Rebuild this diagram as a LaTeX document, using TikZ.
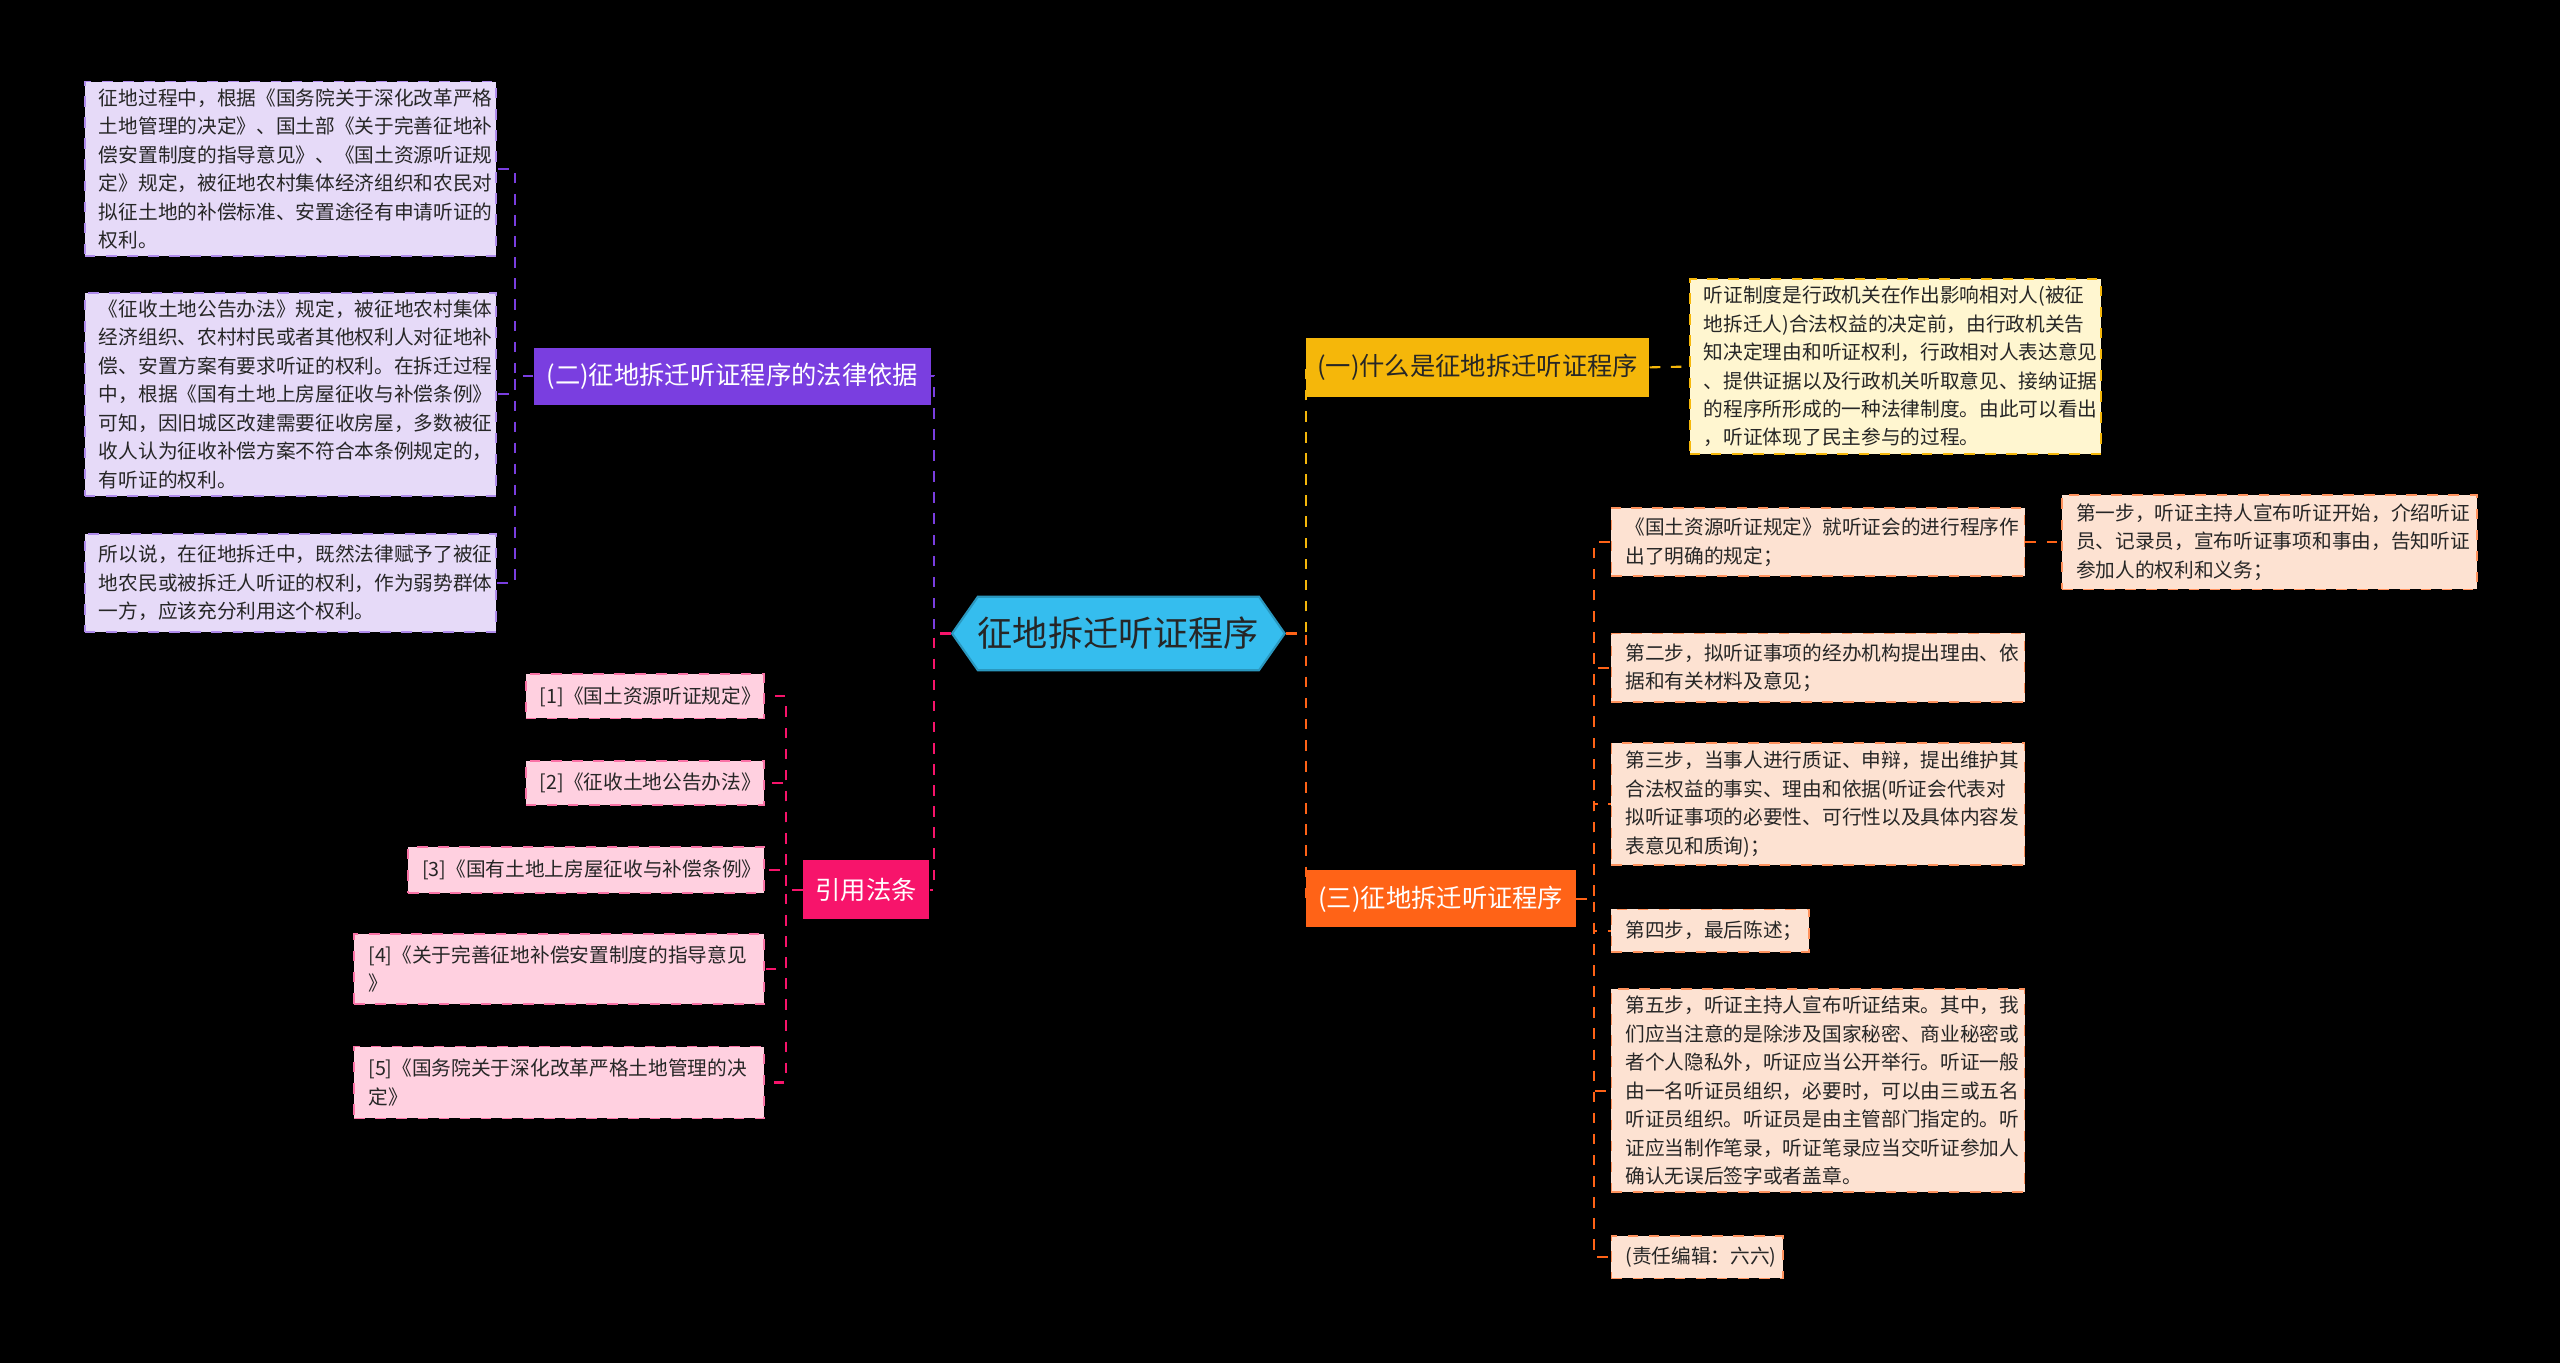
\documentclass[tikz,border=0pt]{standalone}
\usepackage{fontspec}
\setmainfont{Noto Sans CJK SC}
\usetikzlibrary{shapes.symbols}
\definecolor{cC}{HTML}{35BDEE}
\definecolor{cY}{HTML}{F5B70A}
\definecolor{cP}{HTML}{7A3EE0}
\definecolor{cR}{HTML}{F7146B}
\definecolor{cO}{HTML}{FF6317}
\definecolor{fY}{HTML}{FFF6D0}
\definecolor{fP}{HTML}{E6DAF8}
\definecolor{fR}{HTML}{FFD0E0}
\definecolor{fO}{HTML}{FDE2D2}
\tikzset{
 txt/.style={draw,dashed,line width=0.5pt,align=left,font=\fontsize{5.6}{8.1}\selectfont,text=black!85,inner xsep=4pt,inner ysep=2pt},
 tY/.style={txt,fill=fY,draw=cY},
 tP/.style={txt,fill=fP,draw=cP!60},
 tR/.style={txt,fill=fR,draw=cR!60},
 tO/.style={txt,fill=fO,draw=cO!70},
 br/.style={align=center,font=\fontsize{7.2}{9}\selectfont,inner sep=0pt},
 ln/.style={dashed,line width=0.6pt},
}
\newcommand\bx[7]{%
 \pgfmathsetmacro\bw{(#4-#2)*0.01633}%
 \pgfmathsetmacro\bh{(#5-#3)*0.01633}%
 \pgfmathsetmacro\tw{\bw*28.4528-8}%
 \pgfmathsetmacro\cx{(#2+#4)/2*0.01633}%
 \pgfmathsetmacro\cy{-(#3+#5)/2*0.01633}%
 \node[#6,minimum width=\bw cm,minimum height=\bh cm,text width=\tw pt] (#1) at (\cx,\cy) {#7};}
\newcommand\bn[7]{%
 \pgfmathsetmacro\bw{(#4-#2)*0.01633}%
 \pgfmathsetmacro\bh{(#5-#3)*0.01633}%
 \pgfmathsetmacro\cx{(#2+#4)/2*0.01633}%
 \pgfmathsetmacro\cy{-(#3+#5)/2*0.01633}%
 \node[br,#6,minimum width=\bw cm,minimum height=\bh cm] (#1) at (\cx,\cy) {#7};}
\begin{document}
\begin{tikzpicture}
\fill[black] (0,0) rectangle (25.6,-13.63);
\useasboundingbox (0,0) rectangle (25.6,-13.63);
% central
\node[signal,signal to=east and west,signal pointer angle=110,fill=cC,draw=cC!80!black,line width=0.6pt,
 minimum width=166*0.01633cm,minimum height=45*0.01633cm,inner sep=0pt,font=\fontsize{10}{12}\selectfont,text=black!85]
 (c) at (685*0.01633,-388*0.01633) {征地拆迁听证程序};
% branches
\bn{b1}{800}{207}{1010}{243}{fill=cY,text=black!85}{(一)什么是征地拆迁听证程序}
\bn{b2}{327}{213}{570}{248}{fill=cP,text=white}{(二)征地拆迁听证程序的法律依据}
\bn{b3}{492}{527}{569}{563}{fill=cR,text=white}{引用法条}
\bn{b4}{800}{533}{965}{568}{fill=cO,text=white}{(三)征地拆迁听证程序}
% texts
\bx{y1}{1035}{172}{1287}{277}{tY}{听证制度是行政机关在作出影响相对人(被征\\地拆迁人)合法权益的决定前，由行政机关告\\知决定理由和听证权利，行政相对人表达意见\\、提供证据以及行政机关听取意见、接纳证据\\的程序所形成的一种法律制度。由此可以看出\\，听证体现了民主参与的过程。}
\bx{p1}{52}{50}{304}{157}{tP}{征地过程中，根据《国务院关于深化改革严格\\土地管理的决定》、国土部《关于完善征地补\\偿安置制度的指导意见》、《国土资源听证规\\定》规定，被征地农村集体经济组织和农民对\\拟征土地的补偿标准、安置途径有申请听证的\\权利。}
\bx{p2}{52}{181}{304}{302}{tP}{《征收土地公告办法》规定，被征地农村集体\\经济组织、农村村民或者其他权利人对征地补\\偿、安置方案有要求听证的权利。在拆迁过程\\中，根据《国有土地上房屋征收与补偿条例》\\可知，因旧城区改建需要征收房屋，多数被征\\收人认为征收补偿方案不符合本条例规定的，\\有听证的权利。}
\bx{p3}{52}{327}{304}{387}{tP}{所以说，在征地拆迁中，既然法律赋予了被征\\地农民或被拆迁人听证的权利，作为弱势群体\\一方，应该充分利用这个权利。}
\bx{r1}{322}{413}{468}{440}{tR}{[1]《国土资源听证规定》}
\bx{r2}{322}{466}{468}{493}{tR}{[2]《征收土地公告办法》}
\bx{r3}{250}{519}{468}{547}{tR}{[3]《国有土地上房屋征收与补偿条例》}
\bx{r4}{217}{572}{468}{615}{tR}{[4]《关于完善征地补偿安置制度的指导意见\\》}
\bx{r5}{217}{641}{468}{685}{tR}{[5]《国务院关于深化改革严格土地管理的决\\定》}
\bx{s0}{987}{311}{1240}{353}{tO}{《国土资源听证规定》就听证会的进行程序作\\出了明确的规定；}
\bx{s1}{1263}{303}{1517}{361}{tO}{第一步，听证主持人宣布听证开始，介绍听证\\员、记录员，宣布听证事项和事由，告知听证\\参加人的权利和义务；}
\bx{s2}{987}{388}{1240}{430}{tO}{第二步，拟听证事项的经办机构提出理由、依\\据和有关材料及意见；}
\bx{s3}{987}{455}{1240}{530}{tO}{第三步，当事人进行质证、申辩，提出维护其\\合法权益的事实、理由和依据(听证会代表对\\拟听证事项的必要性、可行性以及具体内容发\\表意见和质询)；}
\bx{s4}{987}{557}{1108}{583}{tO}{第四步，最后陈述；}
\bx{s5}{987}{607}{1240}{729}{tO}{第五步，听证主持人宣布听证结束。其中，我\\们应当注意的是除涉及国家秘密、商业秘密或\\者个人隐私外，听证应当公开举行。听证一般\\由一名听证员组织，必要时，可以由三或五名\\听证员组织。听证员是由主管部门指定的。听\\证应当制作笔录，听证笔录应当交听证参加人\\确认无误后签字或者盖章。}
\bx{s6}{987}{757}{1092}{783}{tO}{(责任编辑：六六)}
% connectors
\draw[ln,cY] (c.east) -- ++(0.2,0) |- (b1.west);
\draw[ln,cO] (c.east) -- ++(0.2,0) |- (b4.west);
\draw[ln,cP] (c.west) -- ++(-0.17,0) |- (b2.east);
\draw[ln,cR] (c.west) -- ++(-0.17,0) |- (b3.east);
\draw[ln,cY] (b1.east) -- (y1.west);
\foreach \t in {p1,p2,p3} \draw[ln,cP] (b2.west) -- ++(-0.18,0) |- (\t.east);
\foreach \t in {r1,r2,r3,r4,r5} \draw[ln,cR] (b3.west) -- ++(-0.17,0) |- (\t.east);
\foreach \t in {s0,s2,s3,s4,s5,s6} \draw[ln,cO] (b4.east) -- ++(0.18,0) |- (\t.west);
\draw[ln,cO] (s0.east) -- (s1.west);
\end{tikzpicture}
\end{document}
